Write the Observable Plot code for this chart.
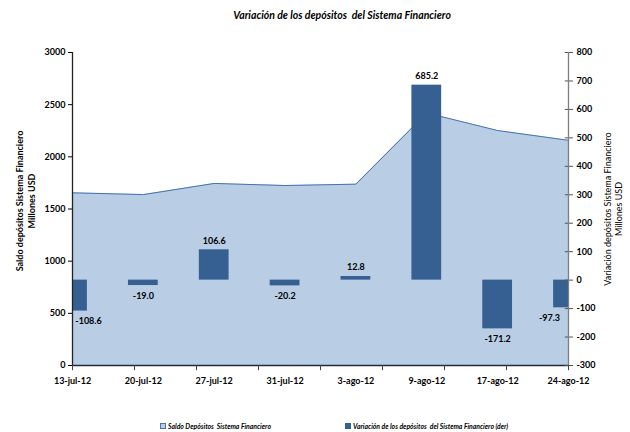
<!DOCTYPE html>
<html>
<head>
<meta charset="utf-8">
<script src="https://cdn.jsdelivr.net/npm/d3@7"></script>
<script src="https://cdn.jsdelivr.net/npm/@observablehq/plot@0.6"></script>
<style>
  html, body { margin: 0; padding: 0; background: #fff; }
  body { width: 630px; height: 432px; overflow: hidden; font-family: Lato, "Open Sans", sans-serif; }
  #title { height: 30px; line-height: 30px; font-size: 10.5px; font-weight: bold; font-style: italic; text-align: center; padding-left: 54px; box-sizing: border-box; color: #000; }
  #legend { position: relative; height: 17px; font-size: 6.8px; font-weight: bold; font-style: italic; color: #000; }
  .item { position: absolute; top: 7px; display: flex; align-items: center; }
  .sw { width: 6px; height: 6px; margin-right: 2px; box-sizing: border-box; }
  #chart svg { display: block; }
</style>
</head>
<body>
<div id="title">Variación de los depósitos &nbsp;del Sistema Financiero</div>
<div id="chart"></div>
<div id="legend">
  <div class="item" style="left:160px"><span class="sw" style="background:#b9cde5;border:1px solid #4a76b0"></span>Saldo Depósitos &nbsp;Sistema Financiero</div>
  <div class="item" style="left:345px"><span class="sw" style="background:#365f92"></span>Variación de los depósitos &nbsp;del Sistema Financiero (der)</div>
</div>
<script>
const fechas = ["13-jul-12","20-jul-12","27-jul-12","31-jul-12","3-ago-12","9-ago-12","17-ago-12","24-ago-12"];
const saldo = [1655, 1638, 1745, 1725, 1738, 2420, 2252, 2158];
const variacion = [-108.6, -19.0, 106.6, -20.2, 12.8, 685.2, -171.2, -97.3];
const leftTicks = [0, 500, 1000, 1500, 2000, 2500, 3000];
const rightTicks = [-300, -200, -100, 0, 100, 200, 300, 400, 500, 600, 700, 800];

const L = [0, 3000], R = [-300, 800];
const toLeft = v => (v - R[0]) * (L[1] - L[0]) / (R[1] - R[0]) + L[0];
const back = t => (t - L[0]) * (R[1] - R[0]) / (L[1] - L[0]) + R[0];

const data = fechas.map((f, i) => ({i, fecha: f, saldo: saldo[i], variacion: variacion[i]}));
const n = fechas.length - 1;
const boundaryTicks = d3.range(0, 9).map(k => k * n / 8);
const hw = 0.21;
const fmt = v => v.toFixed(1);
const last = data.length - 1;
const mid = data.filter(d => d.i > 0 && d.i < last);

const chart = Plot.plot({
  width: 630,
  height: 385,
  marginLeft: 72,
  marginRight: 62,
  marginTop: 22,
  marginBottom: 50,
  x: {domain: [0, n], label: null},
  y: {domain: L, label: null},
  style: {fontFamily: "Lato, 'Open Sans', sans-serif", fontSize: "9px", fontWeight: "bold", color: "#000", background: "#fff"},
  marks: [
    Plot.areaY(data, {x: "i", y1: 0, y2: "saldo", fill: "#b9cde5"}),
    Plot.lineY(data, {x: "i", y: "saldo", stroke: "#4573b0", strokeWidth: 1}),
    Plot.rect(data, {x1: d => d.i - hw, x2: d => d.i + hw, y1: toLeft(0), y2: d => toLeft(d.variacion), fill: "#365f92", clip: true}),
    // labels
    Plot.text(mid.filter(d => d.variacion < 0), {x: "i", y: d => toLeft(d.variacion), text: d => fmt(d.variacion), lineAnchor: "top", dy: 7, fontSize: 9}),
    Plot.text(mid.filter(d => d.variacion >= 0), {x: "i", y: d => toLeft(d.variacion), text: d => fmt(d.variacion), lineAnchor: "bottom", dy: -6, fontSize: 9}),
    Plot.text(data.filter(d => d.i === 0), {x: "i", y: d => toLeft(d.variacion), text: d => fmt(d.variacion), lineAnchor: "top", dy: 7, dx: 16, fontSize: 9}),
    Plot.text(data.filter(d => d.i === last), {x: "i", y: d => toLeft(d.variacion), text: d => fmt(d.variacion), lineAnchor: "top", dy: 7, dx: -19, fontSize: 9}),
    // axes lines
    Plot.ruleY([0], {stroke: "#1f2a44", strokeWidth: 1.3}),
    Plot.ruleX([0], {stroke: "#222", strokeWidth: 1.3}),
    Plot.ruleX([n], {stroke: "#7f7f7f", strokeWidth: 1.3}),
    Plot.ruleX(boundaryTicks, {x: d => d, y1: 0, y2: -50, stroke: "#444"}),
    Plot.ruleY(rightTicks.map(toLeft), {y: d => d, x1: n - 0.045, x2: n, stroke: "#555"}),
    Plot.axisY({anchor: "left", label: null, ticks: leftTicks, tickSize: 4, tickPadding: 3, tickFormat: d => String(d)}),
    Plot.axisY({anchor: "right", label: null, ticks: rightTicks.map(toLeft), tickSize: 4, tickPadding: 4, tickFormat: t => String(Math.round(back(t))), stroke: "#555"}),
    Plot.axisX({label: null, ticks: d3.range(0, n + 1), tickSize: 0, tickPadding: 12, tickFormat: i => fechas[i]}),
    // axis titles
    Plot.text(["Saldo depósitos Sistema Financiero"], {frameAnchor: "middle", textAnchor: "middle", rotate: -90, dx: -300, dy: -8, text: d => d, fontSize: 9, fontWeight: "bold"}),
    Plot.text(["Millones USD"], {frameAnchor: "middle", textAnchor: "middle", rotate: -90, dx: -288, dy: -8, text: d => d, fontSize: 9, fontWeight: "bold"}),
    Plot.text(["Variación depósitos Sistema Financiero"], {frameAnchor: "middle", textAnchor: "middle", rotate: -90, dx: 288, text: d => d, fontSize: 9, fontWeight: "normal"}),
    Plot.text(["Millones USD"], {frameAnchor: "middle", textAnchor: "middle", rotate: -90, dx: 299, text: d => d, fontSize: 9, fontWeight: "normal"})
  ]
});
document.getElementById("chart").appendChild(chart);
</script>
</body>
</html>
